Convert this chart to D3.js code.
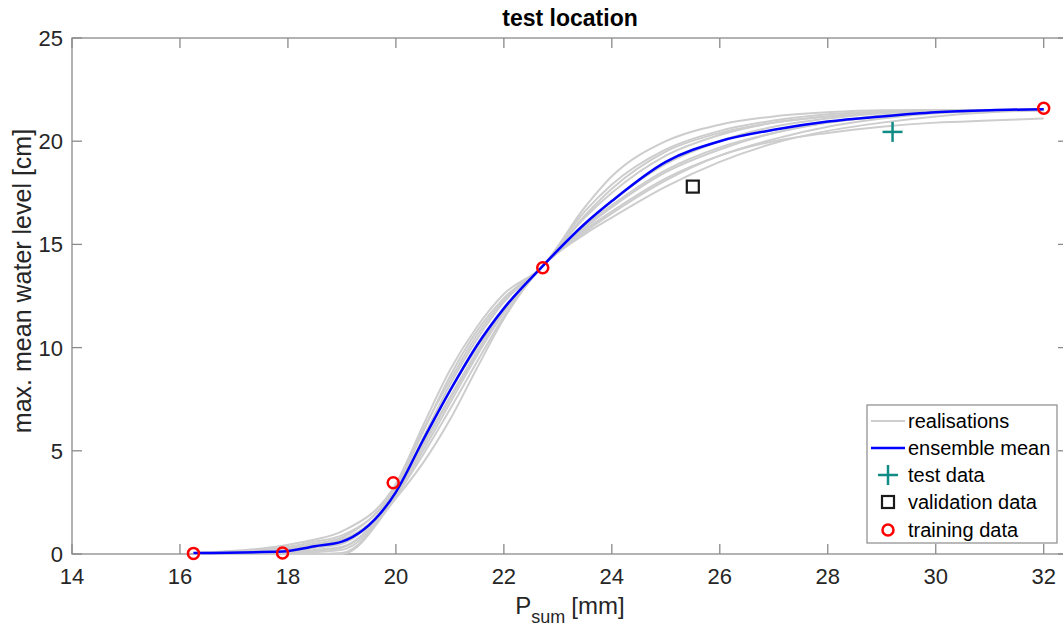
<!DOCTYPE html>
<html>
<head>
<meta charset="utf-8">
<script src="https://cdn.jsdelivr.net/npm/d3@7"></script>
<style>
  body { margin: 0; background: #fff; overflow: hidden; }
  svg { font-family: "Liberation Sans", Arial, sans-serif; }
</style>
</head>
<body>
<svg width="1063" height="632"></svg>
<script>
// grid of P_sum values the curves are sampled at
var xGrid = [16.25, 17.9, 18.5, 19, 20, 20.5, 21, 21.5, 22, 22.7, 23.5, 24, 25, 26, 27, 28, 29, 30, 31, 32];

var ensembleMean = [0.05, 0.12, 0.38, 0.6, 3.0, 5.5, 7.9, 10.1, 11.9, 13.9, 16.0, 17.1, 19.0, 20.0, 20.55, 20.95, 21.2, 21.4, 21.5, 21.55];

var realisations = [
    [0.05, 0.4, 0.7, 1.1, 3.4, 6.2, 8.9, 11.0, 12.6, 13.9, 16.8, 18.3, 20.0, 20.8, 21.2, 21.4, 21.5, 21.5, 21.5, 21.55],
    [0.05, 0.3, 0.6, 0.9, 3.2, 5.9, 8.6, 10.8, 12.4, 13.9, 16.6, 17.9, 19.6, 20.5, 21.0, 21.3, 21.45, 21.5, 21.5, 21.55],
    [0.02, 0.2, 0.45, 0.7, 3.0, 5.6, 8.2, 10.4, 12.2, 13.9, 16.3, 17.5, 19.3, 20.3, 20.9, 21.2, 21.4, 21.5, 21.5, 21.55],
    [0, 0.1, 0.3, 0.5, 3.1, 5.5, 7.9, 10.0, 11.9, 13.9, 16.0, 17.1, 18.9, 20.0, 20.7, 21.1, 21.35, 21.45, 21.5, 21.55],
    [0, 0.05, 0.1, 0.2, 2.9, 5.2, 7.5, 9.7, 11.7, 13.9, 15.8, 16.8, 18.5, 19.6, 20.4, 20.9, 21.25, 21.4, 21.5, 21.55],
    [0, 0, 0, 0.05, 2.8, 4.8, 7.0, 9.3, 11.5, 13.9, 15.6, 16.5, 18.1, 19.3, 20.1, 20.7, 21.1, 21.35, 21.45, 21.5],
    [0, 0, 0, 0, 2.7, 4.4, 6.5, 9.0, 11.4, 13.9, 15.5, 16.3, 17.8, 19.0, 19.9, 20.5, 20.9, 21.2, 21.4, 21.5],
    [0, 0.05, 0.15, 0.3, 3.0, 5.3, 7.6, 9.8, 11.8, 13.9, 15.7, 16.6, 18.2, 19.3, 20.0, 20.4, 20.7, 20.9, 21.0, 21.1],
    [0.05, 0.25, 0.5, 0.8, 3.3, 6.0, 8.4, 10.6, 12.3, 13.9, 16.4, 17.7, 19.5, 20.4, 20.9, 21.2, 21.4, 21.5, 21.5, 21.55],
    [0, 0.1, 0.2, 0.35, 2.9, 5.0, 7.3, 9.6, 11.7, 13.9, 15.9, 16.9, 18.6, 19.7, 20.4, 20.9, 21.2, 21.4, 21.5, 21.55]
];

var trainingX = [16.25, 17.9, 19.95, 22.72, 32];
var trainingY = [0.03, 0.05, 3.45, 13.87, 21.6];
var validationX = [25.5];
var validationY = [17.8];
var testX = [29.2];
var testY = [20.45];

var xTicks = [14, 16, 18, 20, 22, 24, 26, 28, 30, 32];
var yTicks = [0, 5, 10, 15, 20, 25];

var legendLabels = ["realisations", "ensemble mean", "test data", "validation data", "training data"];

var svg = d3.select("svg");
var mLeft = 72, mRight = 1068, mTop = 38, mBottom = 554;
var axisColor = "#8a8a8a";

var x = d3.scaleLinear().domain([14, 32.45]).range([mLeft, mRight]);
var y = d3.scaleLinear().domain([0, 25]).range([mBottom, mTop]);

var line = d3.line()
    .x(function(d) { return x(d[0]); })
    .y(function(d) { return y(d[1]); })
    .curve(d3.curveMonotoneX);

function pairs(ys) {
    return xGrid.map(function(v, i) { return [v, ys[i]]; });
}

// axes box with inward ticks
var tickLen = 10;
var g = svg.append("g");
g.append("rect")
    .attr("x", mLeft).attr("y", mTop)
    .attr("width", mRight - mLeft).attr("height", mBottom - mTop)
    .attr("fill", "none").attr("stroke", axisColor).attr("stroke-width", 1.3);

xTicks.forEach(function(t) {
    g.append("line").attr("x1", x(t)).attr("x2", x(t)).attr("y1", mBottom).attr("y2", mBottom - tickLen)
        .attr("stroke", axisColor).attr("stroke-width", 1.3);
    g.append("line").attr("x1", x(t)).attr("x2", x(t)).attr("y1", mTop).attr("y2", mTop + tickLen)
        .attr("stroke", axisColor).attr("stroke-width", 1.3);
    g.append("text").attr("x", x(t)).attr("y", mBottom + 30)
        .attr("text-anchor", "middle").attr("font-size", 22).attr("fill", "#262626").text(t);
});
yTicks.forEach(function(t) {
    g.append("line").attr("x1", mLeft).attr("x2", mLeft + tickLen).attr("y1", y(t)).attr("y2", y(t))
        .attr("stroke", axisColor).attr("stroke-width", 1.3);
    g.append("line").attr("x1", mRight).attr("x2", mRight - tickLen).attr("y1", y(t)).attr("y2", y(t))
        .attr("stroke", axisColor).attr("stroke-width", 1.3);
    g.append("text").attr("x", mLeft - 9).attr("y", y(t) + 8)
        .attr("text-anchor", "end").attr("font-size", 22).attr("fill", "#262626").text(t);
});

// title and axis labels
svg.append("text").attr("x", (mLeft + mRight) / 2).attr("y", 26)
    .attr("text-anchor", "middle").attr("font-size", 23).attr("font-weight", "bold")
    .attr("fill", "#000").text("test location");

svg.append("text")
    .attr("transform", "translate(31,281) rotate(-90)")
    .attr("text-anchor", "middle").attr("font-size", 25).attr("fill", "#262626")
    .text("max. mean water level [cm]");

var xl = svg.append("text").attr("x", 570).attr("y", 614)
    .attr("text-anchor", "middle").attr("font-size", 24).attr("fill", "#262626");
xl.append("tspan").text("P");
xl.append("tspan").attr("font-size", 18).attr("dy", 9).text("sum");
xl.append("tspan").attr("dy", -9).attr("dx", 6).text("[mm]");

// curves
svg.append("g").selectAll("path")
    .data(realisations)
    .enter().append("path")
    .attr("d", function(d) { return line(pairs(d)); })
    .attr("fill", "none").attr("stroke", "#cdcdcd").attr("stroke-width", 2);

svg.append("path")
    .attr("d", line(pairs(ensembleMean)))
    .attr("fill", "none").attr("stroke", "#0000ff").attr("stroke-width", 2.5);

// markers
var teal = "#118b86";
function plus(sel, cx, cy) {
    sel.append("line").attr("x1", cx - 10).attr("x2", cx + 10).attr("y1", cy).attr("y2", cy)
        .attr("stroke", teal).attr("stroke-width", 2.5);
    sel.append("line").attr("x1", cx).attr("x2", cx).attr("y1", cy - 10).attr("y2", cy + 10)
        .attr("stroke", teal).attr("stroke-width", 2.5);
}
function square(sel, cx, cy) {
    sel.append("rect").attr("x", cx - 6).attr("y", cy - 6).attr("width", 12).attr("height", 12)
        .attr("fill", "none").attr("stroke", "#1a1a1a").attr("stroke-width", 2.2);
}
function circle(sel, cx, cy) {
    sel.append("circle").attr("cx", cx).attr("cy", cy).attr("r", 5.5)
        .attr("fill", "none").attr("stroke", "#ff0000").attr("stroke-width", 2.5);
}

var marks = svg.append("g");
testX.forEach(function(v, i) { plus(marks, x(v), y(testY[i])); });
validationX.forEach(function(v, i) { square(marks, x(v), y(validationY[i])); });
trainingX.forEach(function(v, i) { circle(marks, x(v), y(trainingY[i])); });

// legend
var lg = svg.append("g");
lg.append("rect").attr("x", 867).attr("y", 405).attr("width", 190).attr("height", 138)
    .attr("fill", "#fff").attr("stroke", axisColor).attr("stroke-width", 1.2);
var rowY = [421, 448, 475, 502, 530];
lg.append("line").attr("x1", 871).attr("x2", 905).attr("y1", rowY[0]).attr("y2", rowY[0])
    .attr("stroke", "#cdcdcd").attr("stroke-width", 2);
lg.append("line").attr("x1", 871).attr("x2", 905).attr("y1", rowY[1]).attr("y2", rowY[1])
    .attr("stroke", "#0000ff").attr("stroke-width", 2.5);
plus(lg, 888, rowY[2]);
square(lg, 888, rowY[3]);
circle(lg, 888, rowY[4]);
legendLabels.forEach(function(l, i) {
    lg.append("text").attr("x", 908).attr("y", rowY[i] + 7)
        .attr("font-size", 20).attr("fill", "#000").text(l);
});
</script>
</body>
</html>
